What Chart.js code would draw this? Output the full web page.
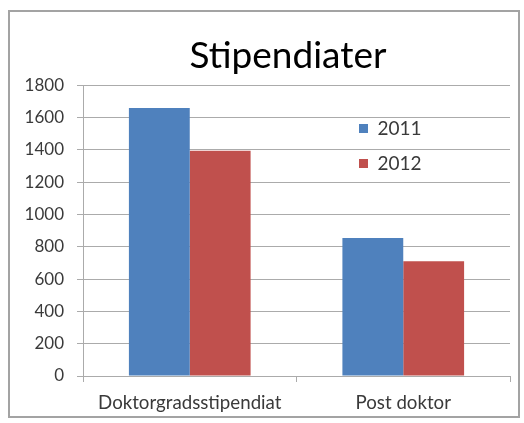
<!DOCTYPE html>
<html>
<head>
<meta charset="utf-8">
<script src="https://cdn.jsdelivr.net/npm/chart.js@4"></script>
<style>
  html, body { margin: 0; padding: 0; background: #fff; }
  #wrap { position: relative; width: 524px; height: 423px; }
  #frame { position: absolute; left: 8px; top: 10px; width: 508px; height: 404px; border: 2px solid #a3a3a3; }
  #chart { position: absolute; left: 0; top: 0; }
</style>
</head>
<body>
<div id="wrap">
  <div id="frame"></div>
  <canvas id="chart" width="524" height="423"></canvas>
</div>
<script>
var categories = ['Doktorgradsstipendiat', 'Post doktor'];
var years = ['2011', '2012'];
var values2011 = [1660, 855];
var values2012 = [1395, 710];
var colors = ['#4f81bd', '#c0504d'];

var gridColor = '#ababab';
var textColor = '#3a3a3a';
var fontFamily = 'Lato, "Open Sans", sans-serif';

// legend sits inside the plot, title is centred a bit right of the canvas middle
var placeBoxes = {
    id: 'placeBoxes',
    afterLayout: function (chart) {
        var lg = chart.legend;
        lg.left = 343;
        lg.top = 103;
        chart.titleBlock.left = 66;
        chart.titleBlock.right = 510;
    }
};

var ctx = document.getElementById('chart');
var chart = new Chart(ctx, {
    type: 'bar',
    data: {
        labels: categories,
        datasets: [
            {label: years[0], data: values2011, backgroundColor: colors[0]},
            {label: years[1], data: values2012, backgroundColor: colors[1]}
        ]
    },
    options: {
        responsive: false,
        animation: false,
        categoryPercentage: 0.57,
        barPercentage: 1.0,
        layout: {padding: {left: 10, right: 14, top: 12, bottom: 10}},
        plugins: {
            title: {
                display: true,
                text: 'Stipendiater',
                color: '#000',
                font: {family: fontFamily, size: 37, weight: 'normal'},
                padding: {top: 22, bottom: 7}
            },
            legend: {
                position: 'chartArea',
                align: 'start',
                labels: {
                    boxWidth: 9,
                    boxHeight: 9,
                    padding: 16,
                    color: textColor,
                    font: {family: fontFamily, size: 19}
                }
            },
            tooltip: {enabled: false}
        },
        scales: {
            x: {
                grid: {drawOnChartArea: false, color: gridColor, tickLength: 6},
                border: {color: gridColor},
                ticks: {color: textColor, font: {family: fontFamily, size: 18.7}, padding: 10},
                afterFit: function (s) { s.height = 37; }
            },
            y: {
                min: 0,
                max: 1800,
                ticks: {
                    stepSize: 200,
                    color: textColor,
                    font: {family: fontFamily, size: 17},
                    padding: 13,
                    callback: function (v) { return String(v); }
                },
                grid: {color: gridColor, tickLength: 6},
                border: {color: gridColor},
                afterFit: function (s) { s.width = 73; }
            }
        }
    },
    plugins: [placeBoxes]
});
</script>
</body>
</html>
